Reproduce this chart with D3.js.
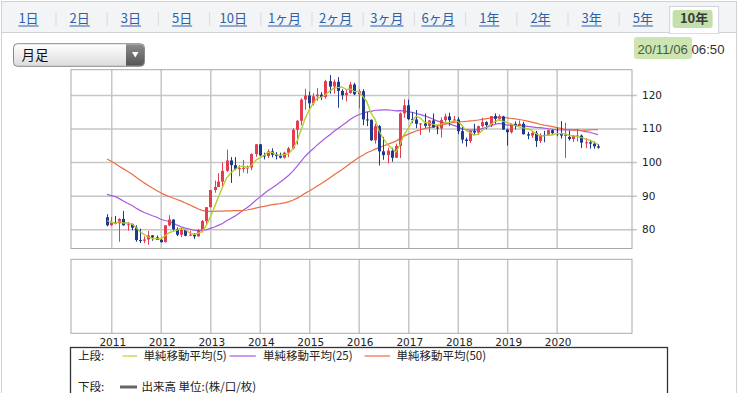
<!DOCTYPE html>
<html><head><meta charset="utf-8">
<script src="https://cdn.jsdelivr.net/npm/d3@7"></script>
<style>body{margin:0;background:#fff;} svg{display:block}</style>
</head><body><svg id="c" width="749" height="393"></svg>
<script>
// ---------- DATA ----------
const tabLabels = ["1日","2日","3日","5日","10日","1ヶ月","2ヶ月","3ヶ月","6ヶ月","1年","2年","3年","5年","10年"];
const activeTab = "10年";
const periodLabel = "月足";
const dateStamp = "20/11/06";
const timeStamp = "06:50";
const firstMonth = "2010-12";   // first candle
const yTicks = [80, 90, 100, 110, 120];
const yearTicks = [2011,2012,2013,2014,2015,2016,2017,2018,2019,2020];
const maPeriods = [5, 25, 50];
const maLabels = ["単純移動平均(5)", "単純移動平均(25)", "単純移動平均(50)"];
const volumeLabel = "出来高 単位:(株/口/枚)";
// monthly closes before the window (2006-11 .. 2010-11), used by the moving averages
const priorCloses = [115.8,119.0,
 120.7,118.6,117.8,119.5,121.7,123.2,118.6,115.8,114.8,115.3,111.2,111.7,
 106.4,103.7,99.7,104.0,105.5,106.2,108.0,108.8,106.0,98.5,95.5,90.6,
 89.9,97.6,98.9,98.6,95.3,96.4,94.7,93.0,89.7,90.0,86.3,93.0,
 90.3,88.9,93.4,94.0,91.3,88.4,86.5,84.2,83.5,80.4,83.6];
// monthly OHLC 2010-12 .. 2020-11
const open = [83.6,
 81.2,82.0,81.8,83.1,81.2,81.5,80.5,76.8,76.6,77.0,78.2,77.6,
 76.9,76.2,81.2,82.9,80.0,78.4,79.8,78.1,78.4,77.9,79.8,82.5,
 86.6,91.7,92.6,94.2,97.4,100.5,99.1,97.9,98.2,98.3,98.4,102.4,
 105.3,102.0,101.8,103.2,102.2,101.8,101.3,102.8,104.1,109.6,112.3,118.6,
 119.8,117.5,119.6,120.1,119.4,124.1,122.5,123.9,121.2,119.9,120.6,123.1,
 120.2,121.1,112.7,112.6,106.5,110.7,103.2,102.1,103.4,101.3,104.8,114.5,
 116.9,112.8,112.7,111.4,111.5,110.8,112.4,110.3,110.0,112.5,113.6,112.5,
 112.7,109.2,106.7,106.3,109.3,108.8,110.7,111.9,111.0,113.7,112.9,113.6,
 109.7,108.9,111.4,110.8,111.4,108.3,107.9,108.7,106.3,108.1,108.0,109.5,
 108.6,108.4,107.9,107.5,106.9,107.8,107.9,105.8,105.9,105.5,104.7];
const high = [84.5,
 83.7,84.0,83.3,85.5,82.2,81.7,81.2,80.2,77.9,79.5,78.3,78.2,
 77.5,81.2,84.2,83.0,80.6,80.6,79.9,79.6,78.9,80.1,82.8,86.6,
 91.7,94.5,96.7,99.9,103.7,101.5,101.5,99.1,100.6,99.0,102.6,105.4,
 105.4,102.8,103.8,104.1,103.0,102.8,103.1,104.5,110.1,112.5,119.0,121.8,
 121.0,120.5,122.0,120.8,124.5,125.9,124.6,125.3,121.7,121.5,123.8,123.6,
 121.7,121.7,114.9,112.7,111.4,111.0,107.5,104.3,104.3,105.5,114.8,118.7,
 118.6,114.9,115.5,111.6,114.4,112.5,114.5,111.0,113.3,114.4,114.7,113.7,
 113.4,110.5,107.3,109.6,111.4,110.9,113.2,112.2,113.7,114.5,114.2,113.8,
 110.0,111.5,112.1,112.4,112.0,109.0,109.3,109.3,108.5,109.3,109.7,109.7,
 110.3,112.2,111.7,109.4,108.1,109.9,108.2,107.1,106.6,106.1,105.3];
const low = [80.9,
 81.0,81.5,76.3,81.1,79.6,79.7,76.3,75.9,75.9,75.4,76.6,76.9,
 76.0,76.1,80.9,79.6,78.0,77.7,77.9,78.0,77.1,77.8,79.1,81.7,
 86.5,90.9,92.6,92.6,97.1,93.8,97.6,95.8,96.9,96.6,97.6,101.6,
 101.8,100.8,101.2,101.4,100.8,101.1,101.1,101.5,103.8,105.2,111.0,115.6,
 115.9,116.9,118.3,118.5,118.9,120.4,120.4,116.2,118.6,118.1,120.3,119.9,
 116.0,111.0,110.7,106.3,105.5,99.0,100.7,99.6,100.1,101.2,101.2,113.2,
 112.5,111.6,110.1,108.1,110.2,108.8,110.2,108.3,107.3,111.7,110.8,111.9,
 108.3,105.6,104.6,105.7,108.1,108.1,110.3,109.8,110.4,111.4,112.3,109.6,
 104.9,108.5,109.7,110.8,108.2,106.8,107.2,104.5,105.7,105.9,107.9,108.4,
 107.7,107.0,101.2,106.4,106.0,106.1,104.2,104.2,104.0,104.0,104.0];
const close = [81.2,
 82.0,81.8,83.1,81.2,81.5,80.5,76.8,76.6,77.0,78.2,77.6,76.9,
 76.2,81.2,82.9,80.0,78.4,79.8,78.1,78.4,77.9,79.8,82.5,86.6,
 91.7,92.6,94.2,97.4,100.5,99.1,97.9,98.2,98.3,98.4,102.4,105.3,
 102.0,101.8,103.2,102.2,101.8,101.3,102.8,104.1,109.6,112.3,118.6,119.8,
 117.5,119.6,120.1,119.4,124.1,122.5,123.9,121.2,119.9,120.6,123.1,120.2,
 121.1,112.7,112.6,106.5,110.7,103.2,102.1,103.4,101.3,104.8,114.5,116.9,
 112.8,112.7,111.4,111.5,110.8,112.4,110.3,110.0,112.5,113.6,112.5,112.7,
 109.2,106.7,106.3,109.3,108.8,110.7,111.9,111.0,113.7,112.9,113.6,109.7,
 108.9,111.4,110.8,111.4,108.3,107.9,108.7,106.3,108.1,108.0,109.5,108.6,
 108.4,107.9,108.1,106.9,107.8,107.9,105.8,105.9,105.5,104.7,104.3];

// ---------- LAYOUT ----------
const svg = d3.select("#c");
const F_JP = "'Noto Sans CJK JP','Noto Sans',sans-serif";
const F_NUM = "'DejaVu Sans',sans-serif";
const plot = {l:71, r:632, t:69.7, b:248.5};
const vol = {t:259.3, b:333.3};

const defs = svg.append("defs");
const g1 = defs.append("linearGradient").attr("id","selbg").attr("x1",0).attr("y1",0).attr("x2",0).attr("y2",1);
g1.append("stop").attr("offset","0").attr("stop-color","#ffffff");
g1.append("stop").attr("offset","1").attr("stop-color","#dcdcdc");
const g2 = defs.append("linearGradient").attr("id","btnbg").attr("x1",0).attr("y1",0).attr("x2",0).attr("y2",1);
g2.append("stop").attr("offset","0").attr("stop-color","#8c8c8c");
g2.append("stop").attr("offset","1").attr("stop-color","#555555");

// page frame
svg.append("rect").attr("x",1.5).attr("y",1.5).attr("width",735).attr("height",31)
  .attr("fill","#f3f4f6").attr("stroke","#cfd2d6");
svg.append("rect").attr("x",1.5).attr("y",32.5).attr("width",735).attr("height",380)
  .attr("fill","#ffffff").attr("stroke","#cfd2d6");

// tabs
const tabX = d3.scaleLinear().domain([0, tabLabels.length-1]).range([28.5, 694.1]);
const tabsG = svg.append("g");
tabLabels.forEach((t,i) => {
  const cx = tabX(i);
  if (t === activeTab) {
    tabsG.append("rect").attr("x",cx-24.5).attr("y",6.5).attr("width",49).attr("height",27)
      .attr("fill","#fff").attr("stroke","#cfd2d6");
    tabsG.append("line").attr("x1",cx-24).attr("x2",cx+24).attr("y1",32.5).attr("y2",32.5).attr("stroke","#fff").attr("stroke-width",1.5);
    tabsG.append("rect").attr("x",cx-21.5).attr("y",10).attr("width",40).attr("height",18)
      .attr("rx",3).attr("fill","#b9da9b").attr("opacity",0.85);
    tabsG.append("text").attr("x",cx).attr("y",23).attr("text-anchor","middle")
      .attr("font-family",F_JP).attr("font-size",13).attr("font-weight","bold").attr("fill","#3a3a3a").text(t);
  } else {
    const tx = tabsG.append("text").attr("x",cx).attr("y",23).attr("text-anchor","middle")
      .attr("font-family",F_JP).attr("font-size",13).attr("fill","#2e5fa6").text(t);
    const w = tx.node().getComputedTextLength();
    tabsG.append("line").attr("x1",cx-w/2).attr("x2",cx+w/2).attr("y1",26).attr("y2",26)
      .attr("stroke","#2e5fa6").attr("stroke-width",1);
  }
  if (i < tabLabels.length-2) {
    tabsG.append("line").attr("x1",cx+27.5).attr("x2",cx+27.5).attr("y1",12).attr("y2",26)
      .attr("stroke","#d8dbe0").attr("stroke-width",1);
  }
});

// date stamp
svg.append("rect").attr("x",634).attr("y",37).attr("width",58).attr("height",22).attr("rx",3)
  .attr("fill","#c6e2aa").attr("opacity",0.9);
const dt = svg.append("text").attr("x",637.5).attr("y",54).attr("font-family","'Liberation Sans',Arial,sans-serif")
  .attr("font-size",13.5).attr("textLength",87).attr("lengthAdjust","spacingAndGlyphs");
dt.append("tspan").attr("fill","#4a5e3e").text(dateStamp);
dt.append("tspan").attr("fill","#333").text(" " + timeStamp);

// period select
svg.append("rect").attr("x",13.5).attr("y",43.7).attr("width",131).attr("height",22.6).attr("rx",4)
  .attr("fill","url(#selbg)").attr("stroke","#8a8a8a");
svg.append("path").attr("d","M126,44.2 H140.3 A3.5,3.5 0 0 1 144,47.7 V62.3 A3.5,3.5 0 0 1 140.3,65.8 H126 Z")
  .attr("fill","url(#btnbg)");
svg.append("path").attr("d","M132,52 L138.5,52 L135.25,57.5 Z").attr("fill","#fff");
svg.append("text").attr("x",21.5).attr("y",60).attr("font-family",F_JP).attr("font-size",13.5)
  .attr("fill","#111").text(periodLabel);

// ---------- SCALES ----------
const parseM = d3.timeParse("%Y-%m");
const start = parseM(firstMonth);
const dates = d3.timeMonth.range(start, d3.timeMonth.offset(start, close.length));
const x = d3.scaleTime().domain([new Date(2010,2,10), new Date(2021,6,10)]).range([plot.l, plot.r]);
const y = d3.scaleLinear().domain([74.3, 127.5]).range([plot.b, plot.t]);

const gridC = "#c6c6c6";
// horizontal grid + right ticks
const yAxis = d3.axisRight(y).tickValues(yTicks).tickSize(-(plot.r - plot.l)).tickPadding(10).tickFormat(d3.format("d"));
const ya = svg.append("g").attr("transform",`translate(${plot.r+5},0)`).call(yAxis);
ya.select(".domain").remove();
ya.selectAll(".tick line").attr("x2", -(plot.r - plot.l) - 5).attr("x1",0).attr("stroke",gridC).attr("stroke-width",1.5);
ya.selectAll(".tick text").attr("x",5).attr("font-family",F_NUM).attr("font-size",10.5).attr("fill","#222");

// vertical year grid in both panels
const yearDates = yearTicks.map(yr => new Date(yr,0,1));
const xAxisTop = d3.axisBottom(x).tickValues(yearDates).tickSize(-(plot.b-plot.t)).tickFormat("");
const xt = svg.append("g").attr("transform",`translate(0,${plot.b})`).call(xAxisTop);
xt.select(".domain").remove();
xt.selectAll(".tick line").attr("stroke",gridC).attr("stroke-width",1.5);
const xAxisBot = d3.axisBottom(x).tickValues(yearDates).tickSize(-(vol.b-vol.t)).tickPadding(5).tickFormat(d3.timeFormat("%Y"));
const xb = svg.append("g").attr("transform",`translate(0,${vol.b})`).call(xAxisBot);
xb.select(".domain").remove();
xb.selectAll(".tick line").attr("stroke",gridC).attr("stroke-width",1.5);
xb.selectAll(".tick text").attr("dx",1).attr("font-family",F_NUM).attr("font-size",10.5).attr("fill","#222");

// frames
svg.append("rect").attr("x",plot.l).attr("y",plot.t).attr("width",plot.r-plot.l).attr("height",plot.b-plot.t)
  .attr("fill","none").attr("stroke","#a9a9a9");
svg.append("rect").attr("x",plot.l).attr("y",vol.t).attr("width",plot.r-plot.l).attr("height",vol.b-vol.t)
  .attr("fill","none").attr("stroke","#a9a9a9");

// ---------- MOVING AVERAGES ----------
const allC = priorCloses.concat(close);
const off = priorCloses.length;
function sma(n){
  return close.map((c,i) => {
    const j = i + off;
    return {d: dates[i], v: d3.mean(allC.slice(j-n+1, j+1))};
  });
}
const maColors = ["#b7d23c", "#a65ae3", "#ea6d46"];
const line = d3.line().x(p => x(p.d)).y(p => y(p.v));
maPeriods.forEach((n,k) => {
  svg.append("path").datum(sma(n)).attr("d", line).attr("fill","none")
    .attr("stroke", maColors[k]).attr("stroke-width",1.2);
});

// ---------- CANDLES ----------
const UP = "#e53d50", DN = "#1f3a8c";
const cg = svg.append("g");
close.forEach((c,i) => {
  const cx = Math.round(x(dates[i])) + 0.5;
  const col = c >= open[i] ? UP : DN;
  cg.append("line").attr("x1",cx).attr("x2",cx).attr("y1",y(high[i])).attr("y2",y(low[i]))
    .attr("stroke",col).attr("stroke-width",1);
  const top = y(Math.max(c, open[i])), bot = y(Math.min(c, open[i]));
  cg.append("rect").attr("x",cx-1.5).attr("y",top).attr("width",3).attr("height",Math.max(1, bot-top)).attr("fill",col);
});
// redraw MA5 on top of candles
svg.append("path").datum(sma(maPeriods[0])).attr("d", line).attr("fill","none")
  .attr("stroke", maColors[0]).attr("stroke-width",1.1);

// ---------- LEGEND ----------
svg.append("rect").attr("x",70.5).attr("y",347.5).attr("width",597).attr("height",60)
  .attr("fill","none").attr("stroke","#333").attr("stroke-width",1.3);
const lg = svg.append("g").attr("font-family",F_JP).attr("font-size",11.5).attr("fill","#222");
lg.append("text").attr("x",78).attr("y",360).text("上段:");
const legLine = [[122.5,137], [229.5,256], [364.5,390]];
const legText = [143.5, 263, 396.5];
maLabels.forEach((t,k) => {
  lg.append("line").attr("x1",legLine[k][0]).attr("x2",legLine[k][1]).attr("y1",356).attr("y2",356)
    .attr("stroke",maColors[k]).attr("stroke-width",1.2);
  lg.append("text").attr("x",legText[k]).attr("y",360).text(t);
});
lg.append("text").attr("x",78).attr("y",391).text("下段:");
lg.append("line").attr("x1",120).attr("x2",137).attr("y1",387).attr("y2",387).attr("stroke","#666").attr("stroke-width",3);
lg.append("text").attr("x",141.5).attr("y",391).text(volumeLabel);
</script></body></html>
